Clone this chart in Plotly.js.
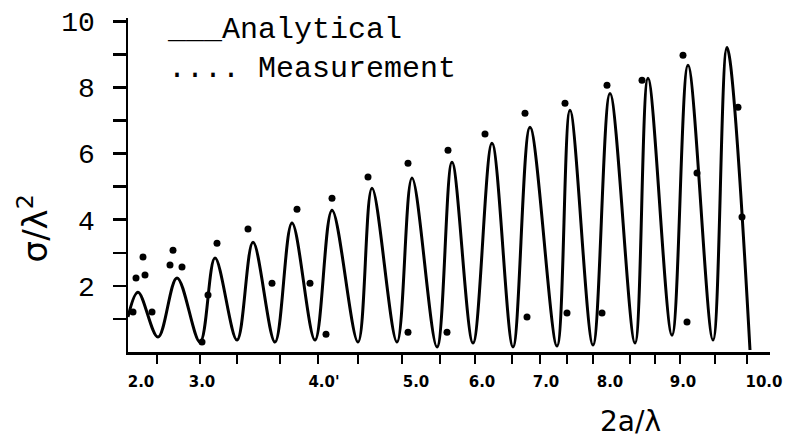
<!DOCTYPE html>
<html>
<head>
<meta charset="utf-8">
<script src="https://cdn.plot.ly/plotly-3.0.1.min.js"></script>
<style>html,body{margin:0;padding:0;background:#fff;}#chart{width:787px;height:440px;}</style>
</head>
<body>
<div id="chart"></div>
<script>
// Positions along the hand-drawn (non-uniform) 2a/λ axis, in axis units
const analyticalX = [0, 10, 30, 49, 72, 87, 109, 125, 147, 164, 187, 204, 230, 244, 269, 284, 309, 324, 345, 364, 385, 402, 429, 442, 465, 482, 507, 520, 544, 560, 585, 599, 622];
const analyticalY = [1.06, 1.81, 0.45, 2.24, 0.30, 2.84, 0.36, 3.32, 0.30, 3.90, 0.36, 4.29, 0.30, 4.95, 0.30, 5.26, 0.15, 5.74, 0.27, 6.31, 0.15, 6.80, 0.18, 7.31, 0.21, 7.82, 0.27, 8.28, 0.51, 8.67, 0.36, 9.21, 0.06];

const measuredX = [5, 8, 17, 15, 24, 42, 54, 45, 74, 80, 89, 120, 144, 169, 182, 198, 204, 240, 280, 280, 319, 320, 357, 397, 399, 437, 439, 474, 479, 514, 555, 559, 569, 610, 614];
const measuredY = [1.21, 2.24, 2.33, 2.87, 1.21, 2.63, 2.57, 3.08, 0.30, 1.72, 3.29, 3.72, 2.08, 4.32, 2.08, 0.54, 4.65, 5.29, 5.71, 0.60, 0.60, 6.10, 6.59, 7.22, 1.06, 7.52, 1.18, 1.18, 8.07, 8.22, 8.97, 0.91, 5.41, 7.40, 4.08];

const xLabelPos = [13, 74, 196, 288, 354, 418, 482, 555, 636];
const xLabelText = ["2.0", "3.0", "4.0'", "5.0", "6.0", "7.0", "8.0", "9.0", "10.0"];
const xTickPos = [29, 72, 109, 152, 190, 230, 274, 312, 347, 384, 412, 439, 465, 502, 527, 552, 587, 619];

const yLabelVals = [2, 4, 6, 8, 10];
const yLabelText = ["2", "4", "6", "8", "10"];
const yMinorVals = [1, 3, 5, 7, 9];

const traces = [
  {
    x: analyticalX, y: analyticalY, name: "Analytical",
    type: "scatter", mode: "lines",
    line: {color: "#000", width: 3, shape: "spline", smoothing: 1.0},
    showlegend: false
  },
  {
    x: measuredX, y: measuredY, name: "Measurement",
    type: "scatter", mode: "markers",
    marker: {color: "#000", size: 7},
    showlegend: false
  }
];

const mono = "Liberation Mono, Courier New, monospace";

const layout = {
  width: 787, height: 440, autosize: false,
  margin: {l: 128, r: 17, t: 18, b: 88},
  paper_bgcolor: "#fff", plot_bgcolor: "#fff",
  xaxis: {
    range: [0, 642], showgrid: false, zeroline: false,
    showline: true, linecolor: "#000", linewidth: 2.5,
    tickmode: "array", tickvals: xLabelPos, ticktext: xLabelText,
    ticks: "", ticklabelstandoff: 14,
    tickfont: {family: "DejaVu Sans, sans-serif", size: 15, color: "#000", weight: "bold"},
    minor: {tickmode: "array", tickvals: xTickPos, ticks: "outside", ticklen: 9, tickwidth: 2, tickcolor: "#000"}
  },
  yaxis: {
    range: [0, 10.1], showgrid: false, zeroline: false,
    showline: true, linecolor: "#000", linewidth: 2.5,
    tickmode: "array", tickvals: yLabelVals, ticktext: yLabelText,
    ticks: "outside", ticklen: 13, tickwidth: 2.5, tickcolor: "#000",
    ticklabelstandoff: 12,
    tickfont: {family: mono, size: 28, color: "#000"},
    minor: {tickmode: "array", tickvals: yMinorVals, ticks: "outside", ticklen: 13, tickwidth: 2.5, tickcolor: "#000"}
  },
  annotations: [
    {xref: "paper", yref: "paper", x: 0.0576, y: 0.905, xanchor: "left", yanchor: "middle", align: "left",
     text: "___Analytical<br>.... Measurement", showarrow: false, font: {family: mono, size: 30, color: "#000"}},
    {xref: "paper", yref: "paper", x: 0.782, y: -0.207, xanchor: "center", yanchor: "middle",
     text: "2a/λ", showarrow: false, font: {family: "DejaVu Sans, sans-serif", size: 28, color: "#000"}},
    {xref: "paper", yref: "paper", x: -0.148, y: 0.37, xanchor: "center", yanchor: "middle",
     text: "σ/λ<sup>2</sup>", textangle: -90, showarrow: false,
     font: {family: "DejaVu Sans, sans-serif", size: 34, color: "#000"}}
  ]
};

Plotly.newPlot("chart", traces, layout, {displayModeBar: false, staticPlot: true});
</script>
</body>
</html>
